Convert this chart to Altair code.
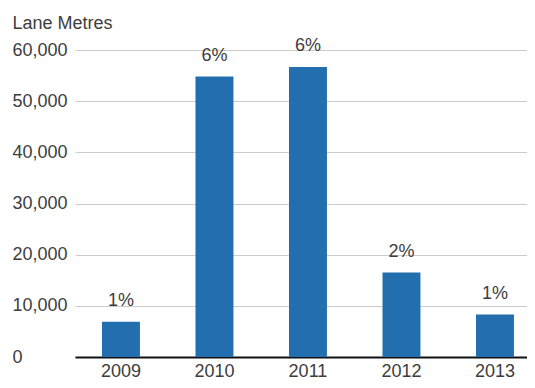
import altair as alt
import pandas as pd

years = ["2009", "2010", "2011", "2012", "2013"]
lane_metres = [6900, 54800, 56700, 16500, 8300]
shares = ["1%", "6%", "6%", "2%", "1%"]
y_ticks = [0, 10000, 20000, 30000, 40000, 50000, 60000]

df = pd.DataFrame({"year": years, "value": lane_metres, "share": shares})

FONT = "Liberation Sans"
TXT = "#3d3d3d"

x = alt.X("year:N", sort=years, title=None,
          scale=alt.Scale(paddingInner=0.594, paddingOuter=0.214, align=0.674),
          axis=alt.Axis(labelAngle=0, labelFontSize=18, labelColor=TXT, labelFont=FONT,
                        labelPadding=5, labelBaseline="top", ticks=False,
                        domainColor="#111111", domainWidth=2, grid=False))
y = alt.Y("value:Q",
          scale=alt.Scale(domain=[0, 60000], nice=False),
          axis=alt.Axis(values=y_ticks, format=",d", labelFontSize=18, labelColor=TXT,
                        labelFont=FONT, labelAlign="left", labelPadding=63, ticks=False,
                        domain=False, gridColor="#cccccc", gridWidth=1,
                        title="Lane Metres", titleAngle=0, titleX=-63, titleY=-22,
                        titleAlign="left", titleBaseline="alphabetic", titleFontSize=18,
                        titleFont=FONT, titleFontWeight="normal", titleColor=TXT))

bars = alt.Chart(df).mark_bar(color="#236eae").encode(x=x, y=y)
labels = alt.Chart(df).mark_text(fontSize=18, font=FONT, color=TXT, baseline="alphabetic", dy=-16).encode(
    x=alt.X("year:N", sort=years), y="value:Q", text="share:N")

chart = alt.layer(bars, labels).properties(
    width=452, height=307,
    autosize=alt.AutoSizeParams(type="none"),
    padding={"left": 67, "top": 42, "right": 0, "bottom": 23},
).configure_view(stroke=None)

chart.save("out.html", embed_options={"renderer": "svg", "actions": False})
